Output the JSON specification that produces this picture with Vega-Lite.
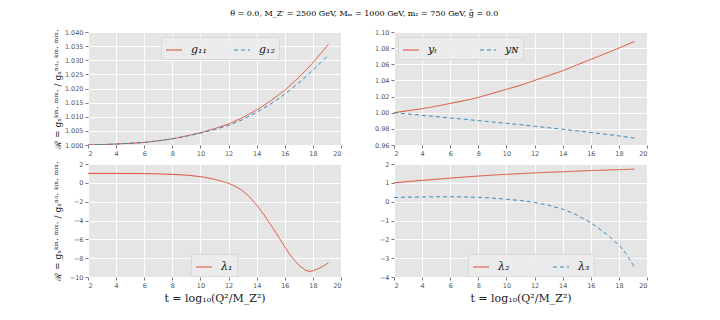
{
  "$schema": "https://vega.github.io/schema/vega-lite/v6.json",
  "background": "white",
  "padding": {"left": 52, "top": 9, "right": 5, "bottom": 5},
  "title": {"text": "θ = 0.0,  M_Z′ = 2500 GeV,  Mₘ = 1000 GeV,   m₂ = 750 GeV,  g̃ = 0.0", "font": "DejaVu Serif", "fontSize": 8, "fontWeight": "normal", "color": "#000", "anchor": "middle", "offset": 11, "dx": 14},
  "datasets": {
    "tl": [
      {"t": 2, "v": 1.0, "s": "g₁₁"}, {"t": 3, "v": 1.00015, "s": "g₁₁"}, {"t": 4, "v": 1.00035, "s": "g₁₁"}, {"t": 5, "v": 1.0006, "s": "g₁₁"}, {"t": 6, "v": 1.0009, "s": "g₁₁"}, {"t": 7, "v": 1.0015, "s": "g₁₁"}, {"t": 8, "v": 1.0022, "s": "g₁₁"}, {"t": 9, "v": 1.0032, "s": "g₁₁"}, {"t": 10, "v": 1.00435, "s": "g₁₁"}, {"t": 11, "v": 1.0058, "s": "g₁₁"}, {"t": 12, "v": 1.0074, "s": "g₁₁"}, {"t": 13, "v": 1.0097, "s": "g₁₁"}, {"t": 14, "v": 1.0124, "s": "g₁₁"}, {"t": 15, "v": 1.0156, "s": "g₁₁"}, {"t": 16, "v": 1.0194, "s": "g₁₁"}, {"t": 17, "v": 1.0239, "s": "g₁₁"}, {"t": 18, "v": 1.0291, "s": "g₁₁"}, {"t": 19, "v": 1.035, "s": "g₁₁"}, {"t": 19.1, "v": 1.0356, "s": "g₁₁"},
      {"t": 2, "v": 1.0, "s": "g₁₂"}, {"t": 3, "v": 1.00015, "s": "g₁₂"}, {"t": 4, "v": 1.00035, "s": "g₁₂"}, {"t": 5, "v": 1.0006, "s": "g₁₂"}, {"t": 6, "v": 1.0009, "s": "g₁₂"}, {"t": 7, "v": 1.0015, "s": "g₁₂"}, {"t": 8, "v": 1.00215, "s": "g₁₂"}, {"t": 9, "v": 1.0031, "s": "g₁₂"}, {"t": 10, "v": 1.0042, "s": "g₁₂"}, {"t": 11, "v": 1.0055, "s": "g₁₂"}, {"t": 12, "v": 1.0069, "s": "g₁₂"}, {"t": 13, "v": 1.009, "s": "g₁₂"}, {"t": 14, "v": 1.0116, "s": "g₁₂"}, {"t": 15, "v": 1.0145, "s": "g₁₂"}, {"t": 16, "v": 1.018, "s": "g₁₂"}, {"t": 17, "v": 1.022, "s": "g₁₂"}, {"t": 18, "v": 1.0265, "s": "g₁₂"}, {"t": 19, "v": 1.0313, "s": "g₁₂"}, {"t": 19.1, "v": 1.0318, "s": "g₁₂"}
    ],
    "tr": [
      {"t": 2, "v": 1.0, "s": "yₜ"}, {"t": 3, "v": 1.0025, "s": "yₜ"}, {"t": 4, "v": 1.005, "s": "yₜ"}, {"t": 5, "v": 1.008, "s": "yₜ"}, {"t": 6, "v": 1.0115, "s": "yₜ"}, {"t": 7, "v": 1.015, "s": "yₜ"}, {"t": 8, "v": 1.019, "s": "yₜ"}, {"t": 9, "v": 1.024, "s": "yₜ"}, {"t": 10, "v": 1.029, "s": "yₜ"}, {"t": 11, "v": 1.034, "s": "yₜ"}, {"t": 12, "v": 1.04, "s": "yₜ"}, {"t": 13, "v": 1.046, "s": "yₜ"}, {"t": 14, "v": 1.052, "s": "yₜ"}, {"t": 15, "v": 1.059, "s": "yₜ"}, {"t": 16, "v": 1.066, "s": "yₜ"}, {"t": 17, "v": 1.073, "s": "yₜ"}, {"t": 18, "v": 1.08, "s": "yₜ"}, {"t": 19, "v": 1.0875, "s": "yₜ"}, {"t": 19.1, "v": 1.088, "s": "yₜ"},
      {"t": 2, "v": 1.0, "s": "yɴ"}, {"t": 3, "v": 0.9984, "s": "yɴ"}, {"t": 4, "v": 0.9968, "s": "yɴ"}, {"t": 5, "v": 0.9952, "s": "yɴ"}, {"t": 6, "v": 0.9935, "s": "yɴ"}, {"t": 7, "v": 0.9919, "s": "yɴ"}, {"t": 8, "v": 0.9902, "s": "yɴ"}, {"t": 9, "v": 0.9885, "s": "yɴ"}, {"t": 10, "v": 0.9868, "s": "yɴ"}, {"t": 11, "v": 0.9851, "s": "yɴ"}, {"t": 12, "v": 0.9833, "s": "yɴ"}, {"t": 13, "v": 0.9814, "s": "yɴ"}, {"t": 14, "v": 0.9795, "s": "yɴ"}, {"t": 15, "v": 0.9775, "s": "yɴ"}, {"t": 16, "v": 0.9755, "s": "yɴ"}, {"t": 17, "v": 0.9734, "s": "yɴ"}, {"t": 18, "v": 0.9712, "s": "yɴ"}, {"t": 19, "v": 0.9688, "s": "yɴ"}, {"t": 19.1, "v": 0.9685, "s": "yɴ"}
    ],
    "bl": [
      {"t": 2, "v": 1.0, "s": "λ₁"}, {"t": 3, "v": 1.0, "s": "λ₁"}, {"t": 4, "v": 1.0, "s": "λ₁"}, {"t": 5, "v": 0.99, "s": "λ₁"}, {"t": 6, "v": 0.98, "s": "λ₁"}, {"t": 7, "v": 0.95, "s": "λ₁"}, {"t": 8, "v": 0.9, "s": "λ₁"}, {"t": 9, "v": 0.82, "s": "λ₁"}, {"t": 10, "v": 0.66, "s": "λ₁"}, {"t": 10.5, "v": 0.53, "s": "λ₁"}, {"t": 11, "v": 0.38, "s": "λ₁"}, {"t": 11.5, "v": 0.18, "s": "λ₁"}, {"t": 12, "v": -0.05, "s": "λ₁"}, {"t": 12.5, "v": -0.38, "s": "λ₁"}, {"t": 13, "v": -0.85, "s": "λ₁"}, {"t": 13.5, "v": -1.5, "s": "λ₁"}, {"t": 14, "v": -2.35, "s": "λ₁"}, {"t": 14.5, "v": -3.35, "s": "λ₁"}, {"t": 15, "v": -4.45, "s": "λ₁"}, {"t": 15.5, "v": -5.6, "s": "λ₁"}, {"t": 16, "v": -6.8, "s": "λ₁"}, {"t": 16.5, "v": -7.9, "s": "λ₁"}, {"t": 17, "v": -8.75, "s": "λ₁"}, {"t": 17.5, "v": -9.3, "s": "λ₁"}, {"t": 17.75, "v": -9.4, "s": "λ₁"}, {"t": 18, "v": -9.35, "s": "λ₁"}, {"t": 18.5, "v": -9.05, "s": "λ₁"}, {"t": 19, "v": -8.6, "s": "λ₁"}, {"t": 19.1, "v": -8.5, "s": "λ₁"}
    ],
    "br": [
      {"t": 2, "v": 1.0, "s": "λ₂"}, {"t": 3, "v": 1.07, "s": "λ₂"}, {"t": 4, "v": 1.13, "s": "λ₂"}, {"t": 5, "v": 1.19, "s": "λ₂"}, {"t": 6, "v": 1.25, "s": "λ₂"}, {"t": 7, "v": 1.31, "s": "λ₂"}, {"t": 8, "v": 1.36, "s": "λ₂"}, {"t": 9, "v": 1.41, "s": "λ₂"}, {"t": 10, "v": 1.45, "s": "λ₂"}, {"t": 11, "v": 1.49, "s": "λ₂"}, {"t": 12, "v": 1.53, "s": "λ₂"}, {"t": 13, "v": 1.56, "s": "λ₂"}, {"t": 14, "v": 1.59, "s": "λ₂"}, {"t": 15, "v": 1.62, "s": "λ₂"}, {"t": 16, "v": 1.65, "s": "λ₂"}, {"t": 17, "v": 1.675, "s": "λ₂"}, {"t": 18, "v": 1.7, "s": "λ₂"}, {"t": 19, "v": 1.725, "s": "λ₂"}, {"t": 19.1, "v": 1.73, "s": "λ₂"},
      {"t": 2, "v": 0.22, "s": "λ₃"}, {"t": 3, "v": 0.24, "s": "λ₃"}, {"t": 4, "v": 0.25, "s": "λ₃"}, {"t": 5, "v": 0.26, "s": "λ₃"}, {"t": 6, "v": 0.26, "s": "λ₃"}, {"t": 7, "v": 0.25, "s": "λ₃"}, {"t": 8, "v": 0.23, "s": "λ₃"}, {"t": 9, "v": 0.19, "s": "λ₃"}, {"t": 10, "v": 0.13, "s": "λ₃"}, {"t": 11, "v": 0.06, "s": "λ₃"}, {"t": 12, "v": -0.04, "s": "λ₃"}, {"t": 13, "v": -0.19, "s": "λ₃"}, {"t": 14, "v": -0.4, "s": "λ₃"}, {"t": 15, "v": -0.7, "s": "λ₃"}, {"t": 16, "v": -1.12, "s": "λ₃"}, {"t": 17, "v": -1.65, "s": "λ₃"}, {"t": 18, "v": -2.3, "s": "λ₃"}, {"t": 18.5, "v": -2.75, "s": "λ₃"}, {"t": 19, "v": -3.35, "s": "λ₃"}, {"t": 19.1, "v": -3.5, "s": "λ₃"}
    ]
  },
  "columns": 2,
  "spacing": {"row": 3, "column": 32},
  "concat": [
    {
      "width": 253, "height": 113,
      "data": {"name": "tl"},
      "mark": {"type": "line", "strokeWidth": 1, "clip": true},
      "encoding": {
        "x": {"field": "t", "type": "quantitative", "scale": {"domain": [2, 20], "nice": false}, "axis": {"values": [2, 4, 6, 8, 10, 12, 14, 16, 18, 20], "title": null}},
        "y": {"field": "v", "type": "quantitative", "scale": {"domain": [1.0, 1.04], "zero": false, "nice": false}, "axis": {"values": [1.0, 1.005, 1.01, 1.015, 1.02, 1.025, 1.03, 1.035, 1.04], "format": ".3f", "title": "ℛ = gₓᵏⁱⁿ· ᵐⁱˣ· / gₓⁿᵒ· ᵏⁱⁿ· ᵐⁱˣ·", "minExtent": 22, "maxExtent": 22, "titlePadding": 4}},
        "color": {"field": "s", "type": "nominal", "scale": {"domain": ["g₁₁", "g₁₂"], "range": ["#E24A33", "#348ABD"]}, "legend": {"title": null, "orient": "none", "legendX": 73, "legendY": 5, "direction": "horizontal", "columnPadding": 24}},
        "strokeDash": {"field": "s", "type": "nominal", "scale": {"domain": ["g₁₁", "g₁₂"], "range": [[1, 0], [4, 3]]}, "legend": {"title": null, "orient": "none", "legendX": 73, "legendY": 5, "direction": "horizontal", "columnPadding": 24}}
      }
    },
    {
      "width": 253, "height": 113,
      "data": {"name": "tr"},
      "mark": {"type": "line", "strokeWidth": 1, "clip": true},
      "encoding": {
        "x": {"field": "t", "type": "quantitative", "scale": {"domain": [2, 20], "nice": false}, "axis": {"values": [2, 4, 6, 8, 10, 12, 14, 16, 18, 20], "title": null}},
        "y": {"field": "v", "type": "quantitative", "scale": {"domain": [0.96, 1.1], "zero": false, "nice": false}, "axis": {"values": [0.96, 0.98, 1.0, 1.02, 1.04, 1.06, 1.08, 1.1], "format": ".2f", "title": null, "minExtent": 20, "maxExtent": 20}},
        "color": {"field": "s", "type": "nominal", "scale": {"domain": ["yₜ", "yɴ"], "range": ["#E24A33", "#348ABD"]}, "legend": {"title": null, "orient": "none", "legendX": 4, "legendY": 5, "direction": "horizontal", "columnPadding": 40}},
        "strokeDash": {"field": "s", "type": "nominal", "scale": {"domain": ["yₜ", "yɴ"], "range": [[1, 0], [4, 3]]}, "legend": {"title": null, "orient": "none", "legendX": 4, "legendY": 5, "direction": "horizontal", "columnPadding": 40}}
      }
    },
    {
      "width": 253, "height": 113,
      "data": {"name": "bl"},
      "mark": {"type": "line", "strokeWidth": 1, "clip": true},
      "encoding": {
        "x": {"field": "t", "type": "quantitative", "scale": {"domain": [2, 20], "nice": false}, "axis": {"values": [2, 4, 6, 8, 10, 12, 14, 16, 18, 20], "title": "t = log₁₀(Q²/M_Z²)"}},
        "y": {"field": "v", "type": "quantitative", "scale": {"domain": [-10, 2], "zero": false, "nice": false}, "axis": {"values": [-10, -8, -6, -4, -2, 0, 2], "title": "ℛ = gₓᵏⁱⁿ· ᵐⁱˣ· / gₓⁿᵒ· ᵏⁱⁿ· ᵐⁱˣ·", "minExtent": 22, "maxExtent": 22, "titlePadding": 4}},
        "color": {"field": "s", "type": "nominal", "scale": {"domain": ["λ₁"], "range": ["#E24A33"]}, "legend": {"title": null, "orient": "none", "legendX": 103, "legendY": 90, "direction": "horizontal"}},
        "strokeDash": {"field": "s", "type": "nominal", "scale": {"domain": ["λ₁"], "range": [[1, 0]]}, "legend": {"title": null, "orient": "none", "legendX": 103, "legendY": 90, "direction": "horizontal"}}
      }
    },
    {
      "width": 253, "height": 113,
      "data": {"name": "br"},
      "mark": {"type": "line", "strokeWidth": 1, "clip": true},
      "encoding": {
        "x": {"field": "t", "type": "quantitative", "scale": {"domain": [2, 20], "nice": false}, "axis": {"values": [2, 4, 6, 8, 10, 12, 14, 16, 18, 20], "title": "t = log₁₀(Q²/M_Z²)"}},
        "y": {"field": "v", "type": "quantitative", "scale": {"domain": [-4, 2], "zero": false, "nice": false}, "axis": {"values": [-4, -3, -2, -1, 0, 1, 2], "title": null, "minExtent": 20, "maxExtent": 20}},
        "color": {"field": "s", "type": "nominal", "scale": {"domain": ["λ₂", "λ₃"], "range": ["#E24A33", "#348ABD"]}, "legend": {"title": null, "orient": "none", "legendX": 74, "legendY": 90, "direction": "horizontal", "columnPadding": 40}},
        "strokeDash": {"field": "s", "type": "nominal", "scale": {"domain": ["λ₂", "λ₃"], "range": [[1, 0], [4, 3]]}, "legend": {"title": null, "orient": "none", "legendX": 74, "legendY": 90, "direction": "horizontal", "columnPadding": 40}}
      }
    }
  ],
  "resolve": {"scale": {"color": "independent", "strokeDash": "independent"}},
  "config": {
    "view": {"fill": "#E5E5E5", "stroke": null},
    "axis": {"grid": true, "gridColor": "#FFFFFF", "gridWidth": 0.9, "domain": false, "ticks": true, "tickColor": "#777", "tickSize": 3, "labelColor": "#555", "labelFont": "DejaVu Sans", "labelFontSize": 6.5, "labelPadding": 2, "titleFont": "DejaVu Serif", "titleFontWeight": "normal", "titleColor": "#222"},
    "axisX": {"titleFontSize": 11, "titlePadding": 4},
    "axisY": {"titleFontSize": 9},
    "legend": {"symbolType": "stroke", "symbolSize": 256, "symbolStrokeWidth": 1.2, "labelFont": "DejaVu Serif", "labelFontStyle": "italic", "labelFontSize": 11, "labelColor": "#111", "labelOffset": 8, "fillColor": "rgba(236,236,236,0.85)", "strokeColor": "#D9D9D9", "padding": 4, "cornerRadius": 0}
  }
}
